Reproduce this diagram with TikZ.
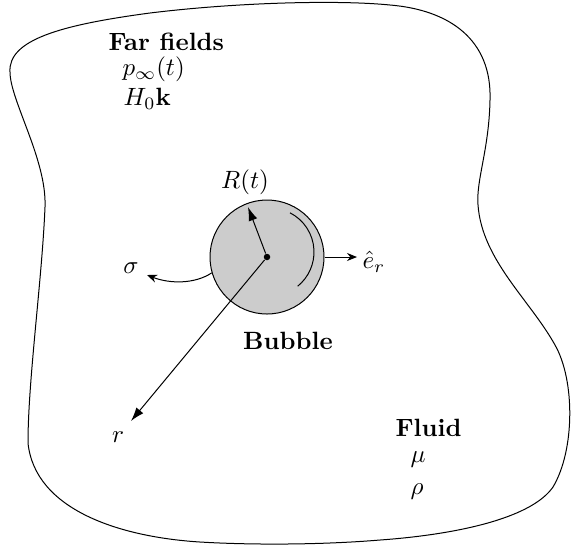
\documentclass[tikz,border=0pt]{standalone}
\usetikzlibrary{arrows.meta}
\begin{document}
\begin{tikzpicture}[x=0.4pt,y=0.4pt,
  txt/.style={inner sep=0pt},
  arr/.style={-{Latex[length=5.5pt,width=3.6pt]}},
  sarr/.style={-{Stealth[length=4pt,width=3.2pt]}}]
\useasboundingbox (0,0) rectangle (571,-548);
% outer fluid boundary
\draw[thin] (10,-72) .. controls (8,-40) and (60,-25) .. (150,-13)
  .. controls (240,-2) and (340,0) .. (390,-5)
  .. controls (450,-10) and (492,-40) .. (490,-100)
  .. controls (489,-150) and (476,-180) .. (478,-205)
  .. controls (482,-260) and (530,-300) .. (555,-345)
  .. controls (575,-380) and (575,-450) .. (553,-487)
  .. controls (530,-520) and (450,-535) .. (380,-540)
  .. controls (320,-545) and (250,-545) .. (200,-542)
  .. controls (120,-537) and (35,-510) .. (28,-443)
  .. controls (28,-380) and (42,-280) .. (45,-207)
  .. controls (47,-160) and (10,-100) .. cycle;
% bubble
\coordinate (c) at (267,-257);
\node[circle, draw, fill=black!20, minimum size=45.6pt, inner sep=0pt] (bubble) at (c) {};
\node[circle, fill=black, inner sep=0pt, minimum size=2.6pt] (dot) at (c) {};
\draw ([shift={(270,-252)}]63:17.6pt) arc[start angle=63, end angle=-51, radius=17.6pt];
% radius R(t)
\coordinate (Rtip) at (248,-207);
\draw[arr] (dot) -- (Rtip);
\node[txt] (R) at (245,-182) {$R(t)$};
% e_r
\coordinate (etip) at (357,-257);
\draw[sarr] (bubble.east) -- (etip);
\node[txt, anchor=west] (er) at (362,-262) {$\hat{e}_r$};
% sigma
\coordinate (stip) at (147,-275);
\draw[sarr] (bubble.196) .. controls (195,-284) and (170,-284) .. (stip);
\node[txt] (sigma) at (131,-268) {$\sigma$};
% r
\coordinate (rtip) at (131,-421);
\draw[arr] (dot) -- (rtip);
\node[txt] (r) at (118,-437) {$r$};
% labels
\node[txt] (bubblelabel) at (288,-341) {\bfseries Bubble};
\node[txt, anchor=west] (far) at (108,-42) {\bfseries Far fields};
\node[txt, anchor=west] (pinf) at (122,-69) {$p_\infty(t)$};
\node[txt, anchor=west] (H0) at (123,-99) {$H_0\mathbf{k}$};
\node[txt, anchor=west] (fluid) at (395,-428) {\bfseries Fluid};
\node[txt, anchor=west] (mu) at (410,-460) {$\mu$};
\node[txt, anchor=west] (rho) at (410,-492) {$\rho$};
\end{tikzpicture}
\end{document}
